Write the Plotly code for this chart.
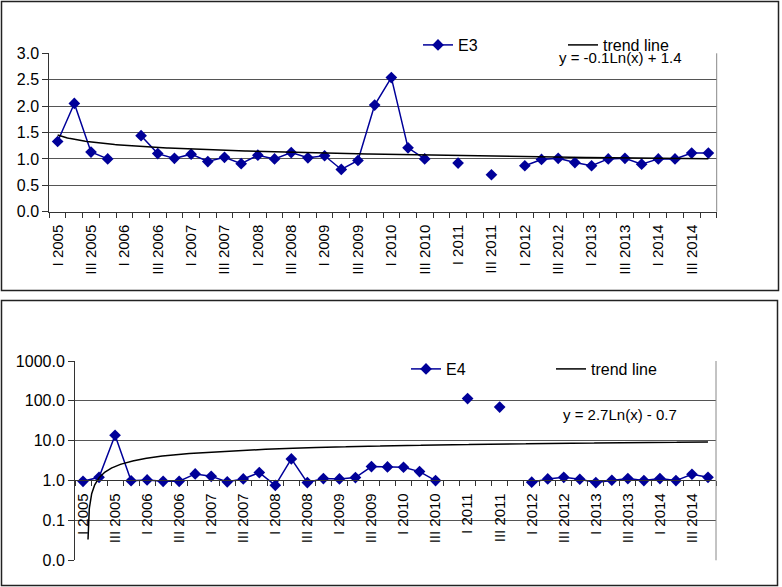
import numpy as np
import plotly.graph_objects as go

# ---------------- data ----------------
YEARS = list(range(2005, 2015))
QUARTERS = ["I", "II", "III", "IV"]
PERIODS = [f"{q} {y}" for y in YEARS for q in QUARTERS]
TICK_LABELS = [p for p in PERIODS if p.split()[0] in ("I", "III")]

E3 = [1.33, 2.05, 1.13, 1.00, None, 1.44, 1.10, 1.01, 1.09, 0.95,
      1.03, 0.91, 1.07, 1.00, 1.12, 1.02, 1.06, 0.80, 0.97, 2.02,
      2.54, 1.21, 1.00, None, 0.92, None, 0.70, None, 0.87, 0.99,
      1.01, 0.93, 0.87, 1.00, 1.01, 0.90, 1.00, 1.00, 1.11, 1.11]
E4 = [0.96, 1.21, 13.7, 0.99, 1.04, 0.96, 0.96, 1.47, 1.28, 0.93,
      1.10, 1.59, 0.76, 3.5, 0.89, 1.12, 1.10, 1.19, 2.25, 2.20,
      2.16, 1.68, 1.00, None, 114.0, None, 70.0, None, 0.91, 1.10,
      1.21, 1.08, 0.89, 1.02, 1.12, 1.00, 1.12, 1.00, 1.44, 1.21]

EQ_E3 = "y = -0.1Ln(x) + 1.4"
EQ_E4 = "y = 2.7Ln(x) - 0.7"
TREND_E4 = (2.7, -0.7)          # coefficients of the displayed log trend
LOG_TICK_VALS = [0.01, 0.1, 1, 10, 100, 1000]
LOG_TICK_TEXT = ["0.0", "0.1", "1.0", "10.0", "100.0", "1000.0"]

# ---------------- helpers ----------------
W, H = 782, 587
def px(x):
    return x / W
def py(y):
    return 1 - y / H

FONT = "Liberation Sans, Arial, sans-serif"
NAVY = "#000099"
GRID = "#555555"
AXIS = "#333333"

pos = np.arange(1, len(PERIODS) + 1)
tickpos = [i + 1 for i, p in enumerate(PERIODS) if p in TICK_LABELS]
bounds = list(np.arange(0.5, len(PERIODS) + 1, 1.0))

# E3 trend: least squares y = a ln(x) + b on the available points
m = np.array([v is not None for v in E3])
yv = np.array([v for v in E3 if v is not None])
a3, b3 = np.polyfit(np.log(pos[m]), yv, 1)
tx3 = np.linspace(1, len(PERIODS), 400)
ty3 = a3 * np.log(tx3) + b3

tx4 = np.linspace(1, len(PERIODS), 4000)
ty4 = TREND_E4[0] * np.log(tx4) + TREND_E4[1]
keep = ty4 > 0.025
tx4, ty4 = tx4[keep], ty4[keep]

fig = go.Figure()
fig.add_trace(go.Scatter(x=pos, y=E3, mode="lines+markers", name="E3",
                         line=dict(color=NAVY, width=1.5),
                         marker=dict(symbol="diamond", size=9, color=NAVY),
                         connectgaps=False, xaxis="x", yaxis="y", legend="legend"))
fig.add_trace(go.Scatter(x=tx3, y=ty3, mode="lines", name="trend line",
                         line=dict(color="black", width=1.5),
                         xaxis="x", yaxis="y", legend="legend"))
fig.add_trace(go.Scatter(x=pos, y=E4, mode="lines+markers", name="E4",
                         line=dict(color=NAVY, width=1.5),
                         marker=dict(symbol="diamond", size=9, color=NAVY),
                         connectgaps=False, xaxis="x2", yaxis="y2", legend="legend2"))
fig.add_trace(go.Scatter(x=tx4, y=ty4, mode="lines", name="trend line",
                         line=dict(color="black", width=1.5),
                         xaxis="x2", yaxis="y2", legend="legend2"))

xcommon = dict(range=[0.5, len(PERIODS) + 0.5], tickmode="array",
               tickvals=tickpos, ticktext=TICK_LABELS, tickangle=-90,
               ticks="", ticklabelstandoff=6, showgrid=False, zeroline=False,
               showline=True, linecolor=AXIS, linewidth=1, automargin=False,
               tickfont=dict(family=FONT, size=15, color="black"),
               minor=dict(tickmode="array", tickvals=bounds, ticks="outside",
                          ticklen=5, tickcolor=AXIS, showgrid=False))

ycommon = dict(showgrid=True, gridcolor=GRID, gridwidth=1, zeroline=False,
               showline=True, linecolor=AXIS, linewidth=1, automargin=False,
               ticks="outside", ticklen=6, tickcolor=AXIS,
               tickfont=dict(family=FONT, size=16, color="black"))

fig.update_layout(
    width=W, height=H, autosize=False,
    margin=dict(l=0, r=0, t=0, b=0, pad=0),
    paper_bgcolor="white", plot_bgcolor="white",
    font=dict(family=FONT, size=15, color="black"),
    xaxis=dict(domain=[px(49.3), px(716.7)], anchor="y", **xcommon),
    yaxis=dict(domain=[py(211.7), py(53.3)], anchor="x", range=[0, 3],
               tickmode="linear", tick0=0, dtick=0.5, tickformat=".1f",
               **ycommon),
    xaxis2=dict(domain=[px(75), px(716)], anchor="free", position=py(480.3),
                **xcommon),
    yaxis2=dict(domain=[py(560.3), py(361)], anchor="x2", type="log",
                range=[-2, 3], tickmode="array", tickvals=LOG_TICK_VALS,
                ticktext=LOG_TICK_TEXT, **ycommon),
    legend=dict(orientation="h", x=px(418), xanchor="left", y=py(28),
                yanchor="top", entrywidth=100, bgcolor="rgba(0,0,0,0)",
                font=dict(family=FONT, size=16, color="black")),
    legend2=dict(orientation="h", x=px(406), xanchor="left", y=py(352),
                 yanchor="top", entrywidth=100, bgcolor="rgba(0,0,0,0)",
                 font=dict(family=FONT, size=16, color="black")),
    showlegend=True,
)

shapes = [
    # panel frames
    dict(type="rect", xref="paper", yref="paper", x0=px(1.5), x1=px(778.5),
         y0=py(290.5), y1=py(1.5), line=dict(color="#222222", width=1.5)),
    dict(type="rect", xref="paper", yref="paper", x0=px(1.5), x1=px(777.5),
         y0=py(585.5), y1=py(300.5), line=dict(color="#222222", width=1.5)),
    # right plot-area borders
    dict(type="line", xref="x domain", yref="y domain", x0=1, x1=1, y0=0, y1=1,
         line=dict(color="#888888", width=1)),
    dict(type="line", xref="x2 domain", yref="y2 domain", x0=1, x1=1, y0=0, y1=1,
         line=dict(color="#888888", width=1)),
    # legend boxes covering the top gridlines
    dict(type="rect", xref="paper", yref="paper", x0=px(377), x1=px(710),
         y0=py(60), y1=py(40), fillcolor="white", line=dict(width=0), layer="above"),
    dict(type="rect", xref="paper", yref="paper", x0=px(365), x1=px(699),
         y0=py(366), y1=py(350), fillcolor="white", line=dict(width=0), layer="above"),
]
fig.update_layout(shapes=shapes)

fig.add_annotation(text=EQ_E3, xref="paper", yref="paper", x=px(620.5), y=py(58),
                   showarrow=False, xanchor="center", yanchor="middle",
                   font=dict(family=FONT, size=15, color="black"))
fig.add_annotation(text=EQ_E4, xref="paper", yref="paper", x=px(619.5), y=py(414),
                   showarrow=False, xanchor="center", yanchor="middle",
                   font=dict(family=FONT, size=15, color="black"))

fig.write_html("out.html",
               config={"displayModeBar": False},
               post_script="document.body.style.margin='0px';"
                           "document.body.style.overflow='hidden';")
